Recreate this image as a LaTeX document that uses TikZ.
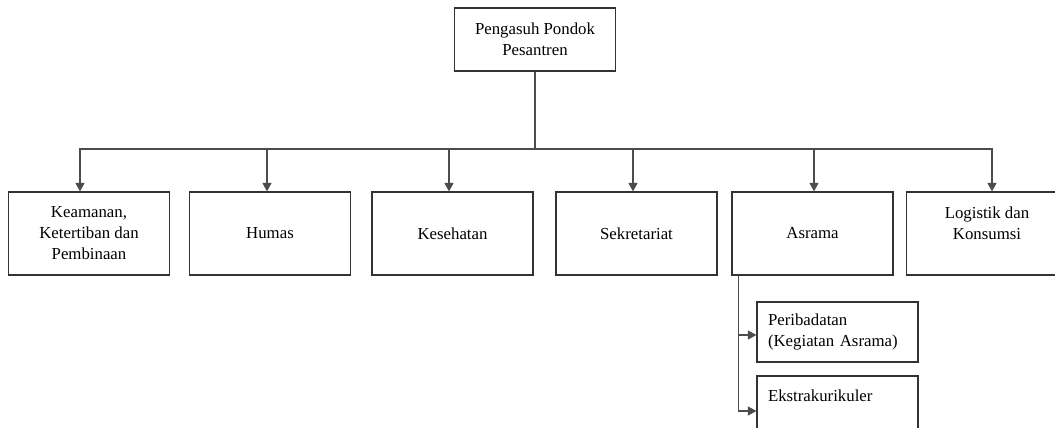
\documentclass[tikz,border=0pt]{standalone}
\usepackage{fontspec}
\setmainfont{Liberation Serif}
\usetikzlibrary{arrows.meta,positioning}

\begin{document}
\begin{tikzpicture}[x=1pt, y=-1pt,
    font=\fontsize{16.8}{21}\selectfont,
    kotak/.style={draw=black!80, line width=1.2pt, minimum width=161pt, minimum height=83pt, inner sep=0pt, align=center},
    subkotak/.style={draw=black!80, line width=1.2pt, minimum width=161pt, minimum height=60pt, text width=139pt, inner xsep=11pt, inner ysep=0pt, align=left},
    garis/.style={draw=black!70, line width=1.1pt},
    panah/.style={garis, -{Triangle[length=8.5pt, width=9pt]}}]
    % --- 定义参数 ---
    \def\yB{233.5}    % 第二层方框的中心高度
    \def\yBar{149}    % 横向总线的高度

    % --- 画布范围 ---
    \useasboundingbox (0,0) rectangle (1055,428);
    \clip (0,0) rectangle (1055,428);

    % --- 顶层: 领导 ---
    \node[kotak, minimum height=63pt] (pengasuh) at (535,39.5) {Pengasuh Pondok\\Pesantren};

    % --- 第二层: 各部门 ---
    \node[kotak] (keamanan)    at (89,\yB)    {Keamanan,\\Ketertiban dan\\Pembinaan};
    \node[kotak] (humas)       at (270,\yB)   {Humas};
    \node[kotak] (kesehatan)   at (452.5,\yB) {Kesehatan};
    \node[kotak] (sekretariat) at (636.5,\yB) {Sekretariat};
    \node[kotak] (asrama)      at (812.5,\yB) {Asrama};
    \node[kotak] (logistik)    at (987,\yB)   {Logistik dan\\Konsumsi\\ \mbox{}};

    % --- 第三层: 宿舍下属 ---
    \node[subkotak] (ibadah) at (837.5,332) {Peribadatan\\(Kegiatan Asrama)};
    \node[subkotak] (ekskul) at (837.5,406) {Ekstrakurikuler\\ \mbox{}};

    % --- 连线: 顶层到各部门 ---
    \coordinate (cabang) at (535,\yBar);
    \draw[garis] (pengasuh.south) -- (cabang);
    \foreach \n/\dx in {keamanan/-9, humas/-3, kesehatan/-3.5, sekretariat/-3.5, asrama/1.5, logistik/5}
        \draw[panah] (cabang) -| ([xshift=\dx pt]\n.north);

    % --- 连线: 宿舍到下属 ---
    \coordinate (turun) at ([xshift=7pt]asrama.south west);
    \draw[panah] (turun) |- ([yshift=-3pt]ibadah.west);
    \draw[panah] (turun) |- ([yshift=-5pt]ekskul.west);

\end{tikzpicture}
\end{document}
